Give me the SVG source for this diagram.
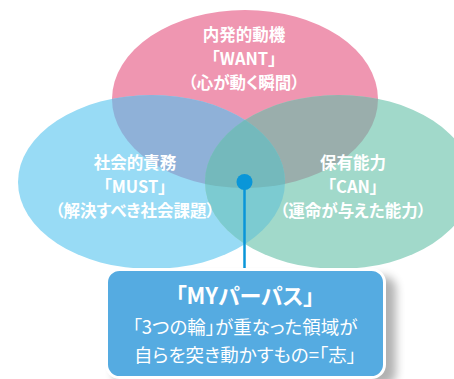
<svg xmlns="http://www.w3.org/2000/svg" width="454" height="379" viewBox="0 0 454 379">
<defs>
<style>
.lbl{font-family:"Noto Sans CJK JP","Noto Sans",sans-serif;font-weight:bold;font-size:16.5px;fill:#ffffff;text-anchor:middle;font-feature-settings:"palt"}
.box{font-family:"Noto Sans CJK JP","Noto Sans",sans-serif;font-size:18.5px;fill:#ffffff;text-anchor:middle;font-feature-settings:"palt"}
</style>
<clipPath id="cT"><ellipse cx="245" cy="99" rx="133" ry="89"/></clipPath>
<clipPath id="cL"><ellipse cx="151.5" cy="182" rx="133.5" ry="87"/></clipPath>
<clipPath id="cR"><ellipse cx="338.5" cy="182" rx="133.5" ry="87"/></clipPath>
<filter id="sh" x="-20%" y="-20%" width="140%" height="140%"><feGaussianBlur stdDeviation="5"/></filter>
</defs>
<rect width="454" height="379" fill="#ffffff"/>
<g id="node-want">
<ellipse cx="245" cy="99" rx="133" ry="89" fill="#ef96b1"/>
</g>
<g id="node-must">
<ellipse cx="151.5" cy="182" rx="133.5" ry="87" fill="#98dbf5"/>
</g>
<g id="node-can">
<ellipse cx="338.5" cy="182" rx="133.5" ry="87" fill="#a1d9ca"/>
</g>
<g id="overlaps">
<g clip-path="url(#cT)"><ellipse cx="151.5" cy="182" rx="133.5" ry="87" fill="#8fb1d8"/><ellipse cx="338.5" cy="182" rx="133.5" ry="87" fill="#9aaeac"/></g>
<g clip-path="url(#cL)"><ellipse cx="338.5" cy="182" rx="133.5" ry="87" fill="#7ccbd1"/></g>
<g clip-path="url(#cL)"><g clip-path="url(#cR)"><ellipse cx="245" cy="99" rx="133" ry="89" fill="#74b9bc"/></g></g>
</g>
<g id="labels">
<text class="lbl" x="244" y="41">内発的動機</text>
<text class="lbl" x="244" y="65">「WANT」</text>
<text class="lbl" x="244" y="89">（心が動く瞬間）</text>
<text class="lbl" x="135" y="169">社会的責務</text>
<text class="lbl" x="135" y="193">「MUST」</text>
<text class="lbl" x="135" y="217">（解決すべき社会課題）</text>
<text class="lbl" x="353" y="169">保有能力</text>
<text class="lbl" x="353" y="193">「CAN」</text>
<text class="lbl" x="353" y="217">（運命が与えた能力）</text>
</g>
<g id="connectors">
<line x1="244.5" y1="182" x2="244.5" y2="270" stroke="#0a96d8" stroke-width="2.5"/>
<circle cx="244.5" cy="182" r="8" fill="#0a96d8"/>
</g>
<g id="node-purpose">
<rect x="114" y="276" width="282" height="110" rx="13" fill="#000000" opacity="0.3" filter="url(#sh)"/>
<rect x="106.5" y="269.5" width="278" height="108" rx="13" fill="#55abe1" stroke="#ffffff" stroke-width="3"/>
<text class="box" x="245" y="304" style="font-weight:bold;font-size:22px">「MYパーパス」</text>
<text class="box" x="245" y="334">「3つの輪」が重なった領域が</text>
<text class="box" x="245" y="362">自らを突き動かすもの=「志」</text>
</g>
</svg>
